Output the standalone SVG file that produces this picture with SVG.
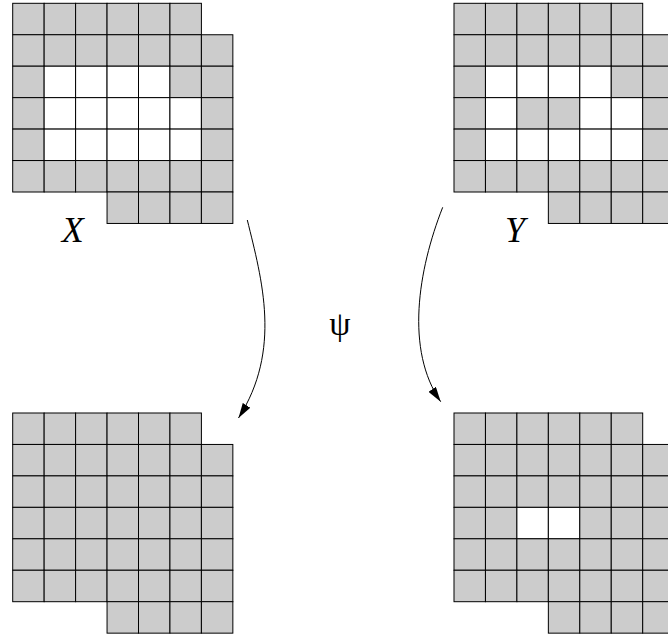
<svg xmlns="http://www.w3.org/2000/svg" width="668" height="639" viewBox="0 0 668 639">
<defs>
<style>
.g{fill:#cccccc;stroke:#000;stroke-width:1}
.w{fill:#ffffff;stroke:#000;stroke-width:1}
.lbl{font-family:"Liberation Serif","Times New Roman",serif;font-style:italic;font-size:36px;fill:#000}
.psi{font-family:"Liberation Serif","Times New Roman",serif;font-size:34px;fill:#000}
.arr{fill:none;stroke:#000;stroke-width:1}
</style>
<marker id="ah" markerUnits="userSpaceOnUse" markerWidth="16" markerHeight="9" refX="15" refY="4.5" orient="auto">
<path d="M0,0 L15,4.5 L0,9 Z" fill="#000"/>
</marker>
<rect id="c" class="g" width="31.45" height="31.45"/>
<rect id="cw" class="w" width="31.45" height="31.45"/>
</defs>
<rect width="668" height="639" fill="#fff"/>

<g id="gridX" transform="translate(12.7,3.3)">
<rect class="g" x="0" y="0" width="31.45" height="31.45"/><rect class="g" x="31.45" y="0" width="31.45" height="31.45"/><rect class="g" x="62.9" y="0" width="31.45" height="31.45"/><rect class="g" x="94.35" y="0" width="31.45" height="31.45"/><rect class="g" x="125.8" y="0" width="31.45" height="31.45"/><rect class="g" x="157.25" y="0" width="31.45" height="31.45"/>
<rect class="g" x="0" y="31.45" width="31.45" height="31.45"/><rect class="g" x="31.45" y="31.45" width="31.45" height="31.45"/><rect class="g" x="62.9" y="31.45" width="31.45" height="31.45"/><rect class="g" x="94.35" y="31.45" width="31.45" height="31.45"/><rect class="g" x="125.8" y="31.45" width="31.45" height="31.45"/><rect class="g" x="157.25" y="31.45" width="31.45" height="31.45"/><rect class="g" x="188.7" y="31.45" width="31.45" height="31.45"/>
<rect class="g" x="0" y="62.9" width="31.45" height="31.45"/><rect class="w" x="31.45" y="62.9" width="31.45" height="31.45"/><rect class="w" x="62.9" y="62.9" width="31.45" height="31.45"/><rect class="w" x="94.35" y="62.9" width="31.45" height="31.45"/><rect class="w" x="125.8" y="62.9" width="31.45" height="31.45"/><rect class="g" x="157.25" y="62.9" width="31.45" height="31.45"/><rect class="g" x="188.7" y="62.9" width="31.45" height="31.45"/>
<rect class="g" x="0" y="94.35" width="31.45" height="31.45"/><rect class="w" x="31.45" y="94.35" width="31.45" height="31.45"/><rect class="w" x="62.9" y="94.35" width="31.45" height="31.45"/><rect class="w" x="94.35" y="94.35" width="31.45" height="31.45"/><rect class="w" x="125.8" y="94.35" width="31.45" height="31.45"/><rect class="w" x="157.25" y="94.35" width="31.45" height="31.45"/><rect class="g" x="188.7" y="94.35" width="31.45" height="31.45"/>
<rect class="g" x="0" y="125.8" width="31.45" height="31.45"/><rect class="w" x="31.45" y="125.8" width="31.45" height="31.45"/><rect class="w" x="62.9" y="125.8" width="31.45" height="31.45"/><rect class="w" x="94.35" y="125.8" width="31.45" height="31.45"/><rect class="w" x="125.8" y="125.8" width="31.45" height="31.45"/><rect class="w" x="157.25" y="125.8" width="31.45" height="31.45"/><rect class="g" x="188.7" y="125.8" width="31.45" height="31.45"/>
<rect class="g" x="0" y="157.25" width="31.45" height="31.45"/><rect class="g" x="31.45" y="157.25" width="31.45" height="31.45"/><rect class="g" x="62.9" y="157.25" width="31.45" height="31.45"/><rect class="g" x="94.35" y="157.25" width="31.45" height="31.45"/><rect class="g" x="125.8" y="157.25" width="31.45" height="31.45"/><rect class="g" x="157.25" y="157.25" width="31.45" height="31.45"/><rect class="g" x="188.7" y="157.25" width="31.45" height="31.45"/>
<rect class="g" x="94.35" y="188.7" width="31.45" height="31.45"/><rect class="g" x="125.8" y="188.7" width="31.45" height="31.45"/><rect class="g" x="157.25" y="188.7" width="31.45" height="31.45"/><rect class="g" x="188.7" y="188.7" width="31.45" height="31.45"/>
</g>

<g id="gridY" transform="translate(454,3.3)">
<rect class="g" x="0" y="0" width="31.45" height="31.45"/><rect class="g" x="31.45" y="0" width="31.45" height="31.45"/><rect class="g" x="62.9" y="0" width="31.45" height="31.45"/><rect class="g" x="94.35" y="0" width="31.45" height="31.45"/><rect class="g" x="125.8" y="0" width="31.45" height="31.45"/><rect class="g" x="157.25" y="0" width="31.45" height="31.45"/>
<rect class="g" x="0" y="31.45" width="31.45" height="31.45"/><rect class="g" x="31.45" y="31.45" width="31.45" height="31.45"/><rect class="g" x="62.9" y="31.45" width="31.45" height="31.45"/><rect class="g" x="94.35" y="31.45" width="31.45" height="31.45"/><rect class="g" x="125.8" y="31.45" width="31.45" height="31.45"/><rect class="g" x="157.25" y="31.45" width="31.45" height="31.45"/><rect class="g" x="188.7" y="31.45" width="31.45" height="31.45"/>
<rect class="g" x="0" y="62.9" width="31.45" height="31.45"/><rect class="w" x="31.45" y="62.9" width="31.45" height="31.45"/><rect class="w" x="62.9" y="62.9" width="31.45" height="31.45"/><rect class="w" x="94.35" y="62.9" width="31.45" height="31.45"/><rect class="w" x="125.8" y="62.9" width="31.45" height="31.45"/><rect class="g" x="157.25" y="62.9" width="31.45" height="31.45"/><rect class="g" x="188.7" y="62.9" width="31.45" height="31.45"/>
<rect class="g" x="0" y="94.35" width="31.45" height="31.45"/><rect class="w" x="31.45" y="94.35" width="31.45" height="31.45"/><rect class="g" x="62.9" y="94.35" width="31.45" height="31.45"/><rect class="g" x="94.35" y="94.35" width="31.45" height="31.45"/><rect class="w" x="125.8" y="94.35" width="31.45" height="31.45"/><rect class="w" x="157.25" y="94.35" width="31.45" height="31.45"/><rect class="g" x="188.7" y="94.35" width="31.45" height="31.45"/>
<rect class="g" x="0" y="125.8" width="31.45" height="31.45"/><rect class="w" x="31.45" y="125.8" width="31.45" height="31.45"/><rect class="w" x="62.9" y="125.8" width="31.45" height="31.45"/><rect class="w" x="94.35" y="125.8" width="31.45" height="31.45"/><rect class="w" x="125.8" y="125.8" width="31.45" height="31.45"/><rect class="w" x="157.25" y="125.8" width="31.45" height="31.45"/><rect class="g" x="188.7" y="125.8" width="31.45" height="31.45"/>
<rect class="g" x="0" y="157.25" width="31.45" height="31.45"/><rect class="g" x="31.45" y="157.25" width="31.45" height="31.45"/><rect class="g" x="62.9" y="157.25" width="31.45" height="31.45"/><rect class="g" x="94.35" y="157.25" width="31.45" height="31.45"/><rect class="g" x="125.8" y="157.25" width="31.45" height="31.45"/><rect class="g" x="157.25" y="157.25" width="31.45" height="31.45"/><rect class="g" x="188.7" y="157.25" width="31.45" height="31.45"/>
<rect class="g" x="94.35" y="188.7" width="31.45" height="31.45"/><rect class="g" x="125.8" y="188.7" width="31.45" height="31.45"/><rect class="g" x="157.25" y="188.7" width="31.45" height="31.45"/><rect class="g" x="188.7" y="188.7" width="31.45" height="31.45"/>
</g>

<g id="gridPsiX" transform="translate(12.7,413)">
<rect class="g" x="0" y="0" width="31.45" height="31.45"/><rect class="g" x="31.45" y="0" width="31.45" height="31.45"/><rect class="g" x="62.9" y="0" width="31.45" height="31.45"/><rect class="g" x="94.35" y="0" width="31.45" height="31.45"/><rect class="g" x="125.8" y="0" width="31.45" height="31.45"/><rect class="g" x="157.25" y="0" width="31.45" height="31.45"/>
<rect class="g" x="0" y="31.45" width="31.45" height="31.45"/><rect class="g" x="31.45" y="31.45" width="31.45" height="31.45"/><rect class="g" x="62.9" y="31.45" width="31.45" height="31.45"/><rect class="g" x="94.35" y="31.45" width="31.45" height="31.45"/><rect class="g" x="125.8" y="31.45" width="31.45" height="31.45"/><rect class="g" x="157.25" y="31.45" width="31.45" height="31.45"/><rect class="g" x="188.7" y="31.45" width="31.45" height="31.45"/>
<rect class="g" x="0" y="62.9" width="31.45" height="31.45"/><rect class="g" x="31.45" y="62.9" width="31.45" height="31.45"/><rect class="g" x="62.9" y="62.9" width="31.45" height="31.45"/><rect class="g" x="94.35" y="62.9" width="31.45" height="31.45"/><rect class="g" x="125.8" y="62.9" width="31.45" height="31.45"/><rect class="g" x="157.25" y="62.9" width="31.45" height="31.45"/><rect class="g" x="188.7" y="62.9" width="31.45" height="31.45"/>
<rect class="g" x="0" y="94.35" width="31.45" height="31.45"/><rect class="g" x="31.45" y="94.35" width="31.45" height="31.45"/><rect class="g" x="62.9" y="94.35" width="31.45" height="31.45"/><rect class="g" x="94.35" y="94.35" width="31.45" height="31.45"/><rect class="g" x="125.8" y="94.35" width="31.45" height="31.45"/><rect class="g" x="157.25" y="94.35" width="31.45" height="31.45"/><rect class="g" x="188.7" y="94.35" width="31.45" height="31.45"/>
<rect class="g" x="0" y="125.8" width="31.45" height="31.45"/><rect class="g" x="31.45" y="125.8" width="31.45" height="31.45"/><rect class="g" x="62.9" y="125.8" width="31.45" height="31.45"/><rect class="g" x="94.35" y="125.8" width="31.45" height="31.45"/><rect class="g" x="125.8" y="125.8" width="31.45" height="31.45"/><rect class="g" x="157.25" y="125.8" width="31.45" height="31.45"/><rect class="g" x="188.7" y="125.8" width="31.45" height="31.45"/>
<rect class="g" x="0" y="157.25" width="31.45" height="31.45"/><rect class="g" x="31.45" y="157.25" width="31.45" height="31.45"/><rect class="g" x="62.9" y="157.25" width="31.45" height="31.45"/><rect class="g" x="94.35" y="157.25" width="31.45" height="31.45"/><rect class="g" x="125.8" y="157.25" width="31.45" height="31.45"/><rect class="g" x="157.25" y="157.25" width="31.45" height="31.45"/><rect class="g" x="188.7" y="157.25" width="31.45" height="31.45"/>
<rect class="g" x="94.35" y="188.7" width="31.45" height="31.45"/><rect class="g" x="125.8" y="188.7" width="31.45" height="31.45"/><rect class="g" x="157.25" y="188.7" width="31.45" height="31.45"/><rect class="g" x="188.7" y="188.7" width="31.45" height="31.45"/>
</g>

<g id="gridPsiY" transform="translate(454,413)">
<rect class="g" x="0" y="0" width="31.45" height="31.45"/><rect class="g" x="31.45" y="0" width="31.45" height="31.45"/><rect class="g" x="62.9" y="0" width="31.45" height="31.45"/><rect class="g" x="94.35" y="0" width="31.45" height="31.45"/><rect class="g" x="125.8" y="0" width="31.45" height="31.45"/><rect class="g" x="157.25" y="0" width="31.45" height="31.45"/>
<rect class="g" x="0" y="31.45" width="31.45" height="31.45"/><rect class="g" x="31.45" y="31.45" width="31.45" height="31.45"/><rect class="g" x="62.9" y="31.45" width="31.45" height="31.45"/><rect class="g" x="94.35" y="31.45" width="31.45" height="31.45"/><rect class="g" x="125.8" y="31.45" width="31.45" height="31.45"/><rect class="g" x="157.25" y="31.45" width="31.45" height="31.45"/><rect class="g" x="188.7" y="31.45" width="31.45" height="31.45"/>
<rect class="g" x="0" y="62.9" width="31.45" height="31.45"/><rect class="g" x="31.45" y="62.9" width="31.45" height="31.45"/><rect class="g" x="62.9" y="62.9" width="31.45" height="31.45"/><rect class="g" x="94.35" y="62.9" width="31.45" height="31.45"/><rect class="g" x="125.8" y="62.9" width="31.45" height="31.45"/><rect class="g" x="157.25" y="62.9" width="31.45" height="31.45"/><rect class="g" x="188.7" y="62.9" width="31.45" height="31.45"/>
<rect class="g" x="0" y="94.35" width="31.45" height="31.45"/><rect class="g" x="31.45" y="94.35" width="31.45" height="31.45"/><rect class="w" x="62.9" y="94.35" width="31.45" height="31.45"/><rect class="w" x="94.35" y="94.35" width="31.45" height="31.45"/><rect class="g" x="125.8" y="94.35" width="31.45" height="31.45"/><rect class="g" x="157.25" y="94.35" width="31.45" height="31.45"/><rect class="g" x="188.7" y="94.35" width="31.45" height="31.45"/>
<rect class="g" x="0" y="125.8" width="31.45" height="31.45"/><rect class="g" x="31.45" y="125.8" width="31.45" height="31.45"/><rect class="g" x="62.9" y="125.8" width="31.45" height="31.45"/><rect class="g" x="94.35" y="125.8" width="31.45" height="31.45"/><rect class="g" x="125.8" y="125.8" width="31.45" height="31.45"/><rect class="g" x="157.25" y="125.8" width="31.45" height="31.45"/><rect class="g" x="188.7" y="125.8" width="31.45" height="31.45"/>
<rect class="g" x="0" y="157.25" width="31.45" height="31.45"/><rect class="g" x="31.45" y="157.25" width="31.45" height="31.45"/><rect class="g" x="62.9" y="157.25" width="31.45" height="31.45"/><rect class="g" x="94.35" y="157.25" width="31.45" height="31.45"/><rect class="g" x="125.8" y="157.25" width="31.45" height="31.45"/><rect class="g" x="157.25" y="157.25" width="31.45" height="31.45"/><rect class="g" x="188.7" y="157.25" width="31.45" height="31.45"/>
<rect class="g" x="94.35" y="188.7" width="31.45" height="31.45"/><rect class="g" x="125.8" y="188.7" width="31.45" height="31.45"/><rect class="g" x="157.25" y="188.7" width="31.45" height="31.45"/><rect class="g" x="188.7" y="188.7" width="31.45" height="31.45"/>
</g>

<g id="labels">
<text class="lbl" x="72.8" y="242.3" text-anchor="middle">X</text>
<text class="lbl" x="515" y="242.3" text-anchor="middle">Y</text>
<text class="psi" x="340" y="335" text-anchor="middle">ψ</text>
</g>

<g id="connectors">
<path class="arr" d="M247.3,220 C262,280 282,350 238.5,418" marker-end="url(#ah)"/>
<path class="arr" d="M442.7,207.3 C418,270 405,350 440.7,401.7" marker-end="url(#ah)"/>
</g>
</svg>
